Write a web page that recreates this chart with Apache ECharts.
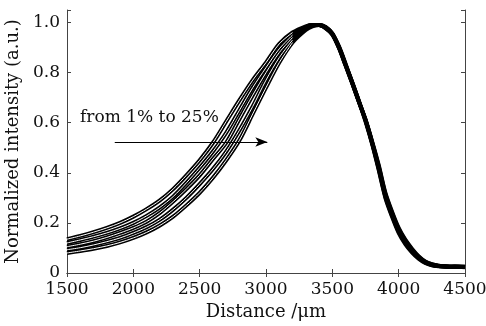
<!DOCTYPE html>
<html>
<head>
<meta charset="utf-8">
<script src="https://cdn.jsdelivr.net/npm/echarts@6/dist/echarts.min.js"></script>
<style>html,body{margin:0;padding:0;background:#fff}#c{width:486px;height:326px}</style>
</head>
<body>
<div id="c"></div>
<script>
// Distance (µm) sample positions
const distance = [1500,1600,1700,1800,1900,2000,2100,2200,2300,2400,2500,2600,2700,2800,2900,3000,3100,3200,3300,3350,3400,
  3450,3500,3550,3600,3650,3700,3750,3800,3850,3900,3950,4000,4050,4100,4150,4200,4250,4300,4350,4400,4450,4500];

// Normalized intensity curves, from 1% (leftmost) to 25% (rightmost)
const curve1 = [.135,.148,.163,.18,.20,.225,.255,.29,.335,.39,.45,.52,.605,.69,.77,.84,.915,.96,.985,.99,.99,
  .982,.955,.905,.835,.76,.685,.605,.515,.41,.30,.225,.16,.115,.082,.057,.04,.031,.027,.025,.024,.025,.023];
const curve2 = [.12,.132,.145,.16,.178,.20,.228,.262,.305,.36,.42,.485,.56,.65,.74,.82,.895,.95,.982,.99,.99,
  .98,.957,.90,.83,.762,.687,.61,.518,.415,.305,.23,.165,.12,.086,.06,.042,.032,.028,.026,.025,.024,.024];
const curve3 = [.105,.115,.127,.142,.16,.18,.205,.24,.285,.335,.39,.455,.52,.615,.71,.80,.88,.94,.98,.99,.99,
  .98,.955,.902,.832,.76,.685,.61,.52,.42,.31,.235,.17,.125,.09,.062,.043,.033,.028,.026,.025,.025,.024];
const curve4 = [.093,.101,.112,.125,.14,.16,.183,.213,.253,.30,.355,.415,.485,.57,.665,.77,.86,.93,.975,.988,.99,
  .978,.953,.90,.83,.758,.684,.612,.522,.425,.315,.24,.175,.13,.094,.065,.045,.034,.029,.027,.026,.025,.025];
const curve5 = [.08,.088,.097,.108,.122,.14,.162,.19,.225,.27,.32,.38,.45,.53,.635,.74,.84,.92,.97,.985,.99,
  .977,.952,.898,.828,.757,.683,.612,.525,.43,.32,.245,.18,.133,.097,.067,.046,.035,.029,.027,.025,.026,.025];
const curves = [curve1, curve2, curve3, curve4, curve5];

const xTicks = [1500, 2000, 2500, 3000, 3500, 4000, 4500];
const yTicks = [0, 0.2, 0.4, 0.6, 0.8, 1.0];
const annotationText = 'from 1% to 25%';
const arrowFrom = [1860, 0.523];
const arrowTo = [3010, 0.523];

const FONT = 'DejaVu Serif';
const frame = '#444';

function pairs(arr, n) {
  const out = [];
  const m = n == null ? arr.length : n;
  for (let i = 0; i < m; i++) out.push([distance[i], arr[i]]);
  return out;
}

const series = [];
curves.forEach((c, i) => {
  const s = {
    type: 'line', data: pairs(c), showSymbol: false, smooth: 0.3,
    lineStyle: { color: '#000', width: 4 }, z: 2, silent: true, animation: false
  };
  if (i === 0) {
    s.markLine = {
      silent: true, animation: false,
      symbol: ['none', 'arrow'], symbolSize: [7, 12],
      label: { show: false },
      lineStyle: { color: '#000', width: 1, type: 'solid' },
      data: [[{ coord: arrowFrom }, { coord: arrowTo }]]
    };
  }
  series.push(s);
});
curves.forEach((c) => {
  series.push({
    type: 'line', data: pairs(c, 18), showSymbol: false, smooth: 0.3,
    lineStyle: { color: '#fff', width: 1 }, z: 3, silent: true, animation: false
  });
});

const chart = echarts.init(document.getElementById('c'), null, { renderer: 'canvas' });
const axisLine = { show: true, lineStyle: { color: frame, width: 1 } };
const tick = { show: true, inside: true, length: 4, lineStyle: { color: frame } };
chart.setOption({
  animation: false,
  backgroundColor: '#fff',
  grid: { left: 67, right: 21, top: 10, bottom: 53, show: false, containLabel: false, outerBoundsMode: 'none' },
  xAxis: [{
    type: 'value', min: xTicks[0], max: xTicks[xTicks.length - 1], interval: 500,
    position: 'bottom',
    axisLine, axisTick: tick, splitLine: { show: false },
    axisLabel: { fontFamily: FONT, fontSize: 17, color: '#111', margin: 8, formatter: v => String(v) },
    name: 'Distance /\u03bcm', nameLocation: 'middle', nameGap: 28,
    nameTextStyle: { fontFamily: FONT, fontSize: 18, color: '#111' }
  }, {
    type: 'value', min: xTicks[0], max: xTicks[xTicks.length - 1], interval: 500,
    position: 'top',
    axisLine, axisTick: tick, splitLine: { show: false }, axisLabel: { show: false }
  }],
  yAxis: [{
    type: 'value', min: 0, max: 1.05, interval: 0.2, position: 'left',
    axisLine, axisTick: tick, splitLine: { show: false },
    axisLabel: {
      fontFamily: FONT, fontSize: 17, color: '#111', margin: 7,
      formatter: v => {
        const hit = yTicks.find(t => Math.abs(t - v) < 1e-6);
        if (hit === undefined) return '';
        return hit === 0 ? '0' : hit.toFixed(1);
      }
    },
    name: 'Normalized intensity (a.u.)', nameLocation: 'middle', nameGap: 43,
    nameTextStyle: { fontFamily: FONT, fontSize: 18, color: '#111' }
  }, {
    type: 'value', min: 0, max: 1.05, interval: 0.2, position: 'right',
    axisLine, axisTick: tick, splitLine: { show: false }, axisLabel: { show: false }
  }],
  graphic: [{
    type: 'text', left: 80, top: 109,
    style: { text: annotationText, fontFamily: FONT, fontSize: 17, fill: '#111' }
  }],
  series
});
</script>
</body>
</html>
